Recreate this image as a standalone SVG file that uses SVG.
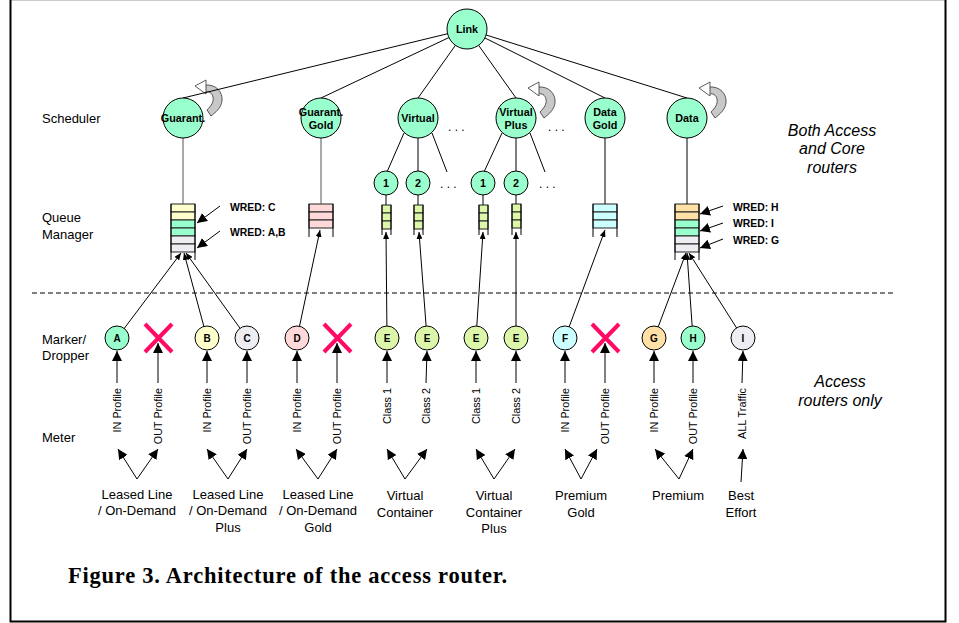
<svg xmlns="http://www.w3.org/2000/svg" xmlns:xlink="http://www.w3.org/1999/xlink" width="959" height="623" viewBox="0 0 959 623">
  <style>
    text { font-family: "Liberation Sans", Arial, sans-serif; fill: #000; }
    .lbl { font-size: 13px; }
    .side { font-size: 16px; font-style: italic; text-anchor: middle; }
    .nl { font-size: 10.8px; font-weight: bold; text-anchor: middle; }
    .ml { font-size: 10px; font-weight: bold; text-anchor: middle; }
    .wred { font-size: 10.4px; font-weight: bold; }
    .vt { font-size: 10.8px; text-anchor: end; }
    .svc { font-size: 13px; text-anchor: middle; }
    .cap { font-family: "Liberation Serif", "Times New Roman", serif; font-size: 22.5px; font-weight: bold; }
    .ln { stroke: #000; stroke-width: 1; fill: none; }
    .gl { stroke: #555; stroke-width: 1; fill: none; }
    .circ { stroke: #000; stroke-width: 1; }
    .mint { fill: #99ffcc; }
    .yel { fill: #ffffcc; }
    .gry { fill: #eeeef2; }
    .pnk { fill: #ffd9d9; }
    .lim { fill: #ddf7aa; }
    .cyn { fill: #ccffff; }
    .org { fill: #ffe0a6; }
    .cell { stroke: #222; stroke-width: 1; }
    .drop { stroke: #ff0a64; stroke-width: 4; stroke-linecap: butt; }
    .sm { marker-end: url(#ahS); }
    .bg { marker-end: url(#ahB); }
  </style>
  <defs>
    <marker id="ahS" viewBox="0 0 7 6" refX="7" refY="3" markerWidth="7" markerHeight="6" markerUnits="userSpaceOnUse" orient="auto">
      <path d="M0,0 L7,3 L0,6 z" fill="#000"/>
    </marker>
    <marker id="ahB" viewBox="0 0 10 10" refX="10" refY="5" markerWidth="10" markerHeight="10" markerUnits="userSpaceOnUse" orient="auto">
      <path d="M0,0 L10,5 L0,10 z" fill="#000"/>
    </marker>
    <!-- rotating block arrow drawn beside a scheduler -->
    <g id="curl">
      <path d="M 22,-33 C 33,-34 40,-26 39,-17 C 38,-10 33,-6 28,-2 L 24,-8 C 28,-12 31,-16 30,-21 C 29,-25 26,-27 22,-26 Z" fill="#c8c8c8" stroke="#333" stroke-width="0.8"/>
      <path d="M 23,-38 L 23,-24 L 12,-32 Z" fill="#fff" stroke="#333" stroke-width="0.8"/>
    </g>
  </defs>

  <rect x="0" y="0" width="959" height="623" fill="#fff"/>

  <!-- frame -->
  <g id="frame">
    <line x1="10" y1="0.5" x2="946" y2="0.5" stroke="#ccc" stroke-width="1"/>
    <path d="M10.5,0 V621.5 H945.5 V0" fill="none" stroke="#000" stroke-width="2"/>
  </g>

  <!-- row titles -->
  <g id="row-labels">
    <text class="lbl" x="42" y="123">Scheduler</text>
    <text class="lbl" x="42" y="222">Queue</text>
    <text class="lbl" x="42" y="239">Manager</text>
    <text class="lbl" x="42" y="344">Marker/</text>
    <text class="lbl" x="42" y="360">Dropper</text>
    <text class="lbl" x="42" y="442">Meter</text>
  </g>

  <g id="scope-labels">
    <text class="side" x="832" y="136">Both Access</text>
    <text class="side" x="832" y="154">and Core</text>
    <text class="side" x="832" y="173">routers</text>
    <text class="side" x="840" y="387">Access</text>
    <text class="side" x="840" y="406">routers only</text>
  </g>

  <!-- boundary between core and access functions -->
  <line id="divider" x1="32" y1="293" x2="893" y2="293" stroke="#000" stroke-width="1" stroke-dasharray="5,3"/>

  <!-- rotation symbols -->
  <g id="rotations">
    <use xlink:href="#curl" x="183" y="118"/>
    <use xlink:href="#curl" x="516" y="120"/>
    <use xlink:href="#curl" x="687" y="120"/>
  </g>

  <!-- dropped traffic -->
  <g id="drops">
    <path class="drop" d="M145,324 L172,352 M172,324 L145,352"/>
    <path class="drop" d="M324,324 L351,352 M351,324 L324,352"/>
    <path class="drop" d="M592,324 L619,352 M619,324 L592,352"/>
  </g>

  <!-- queues -->
  <g id="queue-guarant">
    <rect class="cell yel" x="171" y="204" width="24" height="8"/>
    <rect class="cell yel" x="171" y="212" width="24" height="8"/>
    <rect class="cell mint" x="171" y="220" width="24" height="8"/>
    <rect class="cell mint" x="171" y="228" width="24" height="8"/>
    <rect class="cell gry" x="171" y="236" width="24" height="8"/>
    <rect class="cell gry" x="171" y="244" width="24" height="8"/>
    <path class="ln" d="M171,204 V260 M195,204 V260"/>
  </g>
  <g id="queue-guarant-gold">
    <rect class="cell pnk" x="309" y="204" width="24" height="8"/>
    <rect class="cell pnk" x="309" y="212" width="24" height="8"/>
    <rect class="cell pnk" x="309" y="220" width="24" height="8"/>
    <path class="ln" d="M309,204 V237 M333,204 V237"/>
  </g>
  <g id="queue-virtual-1">
    <rect class="cell lim" x="382" y="205" width="9" height="8"/>
    <rect class="cell lim" x="382" y="213" width="9" height="8"/>
    <rect class="cell lim" x="382" y="221" width="9" height="8"/>
    <path class="ln" d="M382,205 V235 M391,205 V235"/>
  </g>
  <g id="queue-virtual-2">
    <rect class="cell lim" x="414" y="205" width="9" height="8"/>
    <rect class="cell lim" x="414" y="213" width="9" height="8"/>
    <rect class="cell lim" x="414" y="221" width="9" height="8"/>
    <path class="ln" d="M414,205 V235 M423,205 V235"/>
  </g>
  <g id="queue-virtual-plus-1">
    <rect class="cell lim" x="479" y="205" width="9" height="8"/>
    <rect class="cell lim" x="479" y="213" width="9" height="8"/>
    <rect class="cell lim" x="479" y="221" width="9" height="8"/>
    <path class="ln" d="M479,205 V235 M488,205 V235"/>
  </g>
  <g id="queue-virtual-plus-2">
    <rect class="cell lim" x="512" y="204" width="9" height="8"/>
    <rect class="cell lim" x="512" y="212" width="9" height="8"/>
    <rect class="cell lim" x="512" y="220" width="9" height="8"/>
    <path class="ln" d="M512,204 V235 M521,204 V235"/>
  </g>
  <g id="queue-data-gold">
    <rect class="cell cyn" x="593" y="204" width="24" height="8"/>
    <rect class="cell cyn" x="593" y="212" width="24" height="8"/>
    <rect class="cell cyn" x="593" y="220" width="24" height="8"/>
    <path class="ln" d="M593,204 V237 M617,204 V237"/>
  </g>
  <g id="queue-data">
    <rect class="cell org" x="675" y="204" width="24" height="8"/>
    <rect class="cell org" x="675" y="212" width="24" height="8"/>
    <rect class="cell mint" x="675" y="220" width="24" height="8"/>
    <rect class="cell mint" x="675" y="228" width="24" height="8"/>
    <rect class="cell gry" x="675" y="236" width="24" height="8"/>
    <rect class="cell gry" x="675" y="244" width="24" height="8"/>
    <path class="ln" d="M675,204 V260 M699,204 V260"/>
  </g>

  <!-- WRED thresholds -->
  <g id="wred">
    <text class="wred" x="230" y="211">WRED: C</text>
    <text class="wred" x="230" y="236">WRED: A,B</text>
    <text class="wred" x="733" y="211">WRED: H</text>
    <text class="wred" x="733" y="227">WRED: I</text>
    <text class="wred" x="733" y="244">WRED: G</text>
  </g>

  <!-- connectors -->
  <g id="connectors">
    <!-- link to schedulers -->
    <line class="ln" x1="467" y1="29" x2="183" y2="98"/>
    <line class="ln" x1="467" y1="29" x2="321" y2="98"/>
    <line class="ln" x1="467" y1="29" x2="418" y2="98"/>
    <line class="ln" x1="467" y1="29" x2="516" y2="98"/>
    <line class="ln" x1="467" y1="29" x2="605" y2="98"/>
    <line class="ln" x1="467" y1="29" x2="687" y2="98"/>
    <!-- virtual schedulers to their classes -->
    <line class="ln" x1="404" y1="133" x2="387" y2="172"/>
    <line class="ln" x1="418" y1="138" x2="418" y2="171"/>
    <line class="ln" x1="432" y1="133" x2="447" y2="172"/>
    <line class="ln" x1="502" y1="133" x2="484" y2="172"/>
    <line class="ln" x1="516" y1="138" x2="516" y2="171"/>
    <line class="ln" x1="530" y1="133" x2="545" y2="172"/>
    <!-- schedulers to queues -->
    <line class="gl" x1="183" y1="138" x2="183" y2="204"/>
    <line class="gl" x1="321" y1="138" x2="321" y2="204"/>
    <line class="ln" x1="605" y1="138" x2="605" y2="204"/>
    <line class="ln" x1="687" y1="138" x2="687" y2="204"/>
    <line class="ln" x1="386" y1="195" x2="386" y2="205"/>
    <line class="ln" x1="418" y1="195" x2="418" y2="205"/>
    <line class="ln" x1="483" y1="195" x2="483" y2="205"/>
    <line class="ln" x1="516" y1="195" x2="516" y2="204"/>
    <!-- WRED pointers -->
    <line class="ln bg" x1="220" y1="206" x2="197" y2="223"/>
    <line class="ln bg" x1="220" y1="231" x2="197" y2="248"/>
    <line class="ln bg" x1="723" y1="206" x2="700" y2="214"/>
    <line class="ln bg" x1="723" y1="223" x2="700" y2="231"/>
    <line class="ln bg" x1="723" y1="239" x2="700" y2="248"/>
    <!-- markers to queues -->
    <line class="ln sm" x1="117" y1="338" x2="181" y2="253"/>
    <line class="ln sm" x1="207" y1="338" x2="184" y2="253"/>
    <line class="ln sm" x1="247" y1="338" x2="186" y2="253"/>
    <line class="ln sm" x1="297" y1="338" x2="320" y2="230"/>
    <line class="ln sm" x1="387" y1="338" x2="386" y2="232"/>
    <line class="ln sm" x1="427" y1="338" x2="419" y2="232"/>
    <line class="ln sm" x1="476" y1="338" x2="483" y2="232"/>
    <line class="ln sm" x1="516" y1="338" x2="516" y2="232"/>
    <line class="ln sm" x1="565" y1="338" x2="605" y2="230"/>
    <line class="ln sm" x1="654" y1="338" x2="686" y2="253"/>
    <line class="ln sm" x1="693" y1="338" x2="687" y2="253"/>
    <line class="ln sm" x1="743" y1="338" x2="689" y2="253"/>
    <!-- meter outputs to markers / droppers -->
    <line class="ln bg" x1="117" y1="383" x2="117" y2="351"/>
    <line class="ln bg" x1="158" y1="383" x2="158" y2="343"/>
    <line class="ln bg" x1="207" y1="383" x2="207" y2="351"/>
    <line class="ln bg" x1="247" y1="383" x2="247" y2="351"/>
    <line class="ln bg" x1="297" y1="383" x2="297" y2="351"/>
    <line class="ln bg" x1="337" y1="383" x2="337" y2="343"/>
    <line class="ln bg" x1="387" y1="383" x2="387" y2="351"/>
    <line class="ln bg" x1="426" y1="383" x2="427" y2="351"/>
    <line class="ln bg" x1="476" y1="383" x2="476" y2="351"/>
    <line class="ln bg" x1="516" y1="383" x2="516" y2="351"/>
    <line class="ln bg" x1="565" y1="383" x2="565" y2="351"/>
    <line class="ln bg" x1="605" y1="383" x2="605" y2="343"/>
    <line class="ln bg" x1="654" y1="383" x2="654" y2="351"/>
    <line class="ln bg" x1="693" y1="383" x2="693" y2="351"/>
    <line class="ln bg" x1="742" y1="383" x2="743" y2="351"/>
    <!-- service classes into the meter -->
    <line class="ln bg" x1="137" y1="479" x2="118" y2="449"/>
    <line class="ln bg" x1="137" y1="479" x2="158" y2="449"/>
    <line class="ln bg" x1="228" y1="479" x2="207" y2="449"/>
    <line class="ln bg" x1="228" y1="479" x2="247" y2="449"/>
    <line class="ln bg" x1="318" y1="479" x2="296" y2="449"/>
    <line class="ln bg" x1="318" y1="479" x2="337" y2="449"/>
    <line class="ln bg" x1="405" y1="479" x2="387" y2="449"/>
    <line class="ln bg" x1="405" y1="479" x2="427" y2="449"/>
    <line class="ln bg" x1="494" y1="479" x2="476" y2="449"/>
    <line class="ln bg" x1="494" y1="479" x2="515" y2="449"/>
    <line class="ln bg" x1="581" y1="479" x2="565" y2="449"/>
    <line class="ln bg" x1="581" y1="479" x2="597" y2="449"/>
    <line class="ln bg" x1="679" y1="479" x2="655" y2="449"/>
    <line class="ln bg" x1="679" y1="479" x2="693" y2="449"/>
    <line class="ln bg" x1="741" y1="482" x2="743" y2="449"/>
  </g>

  <!-- continuation dots -->
  <g id="more">
    <text x="448" y="131" style="font-size:12px">. . .</text>
    <text x="548" y="131" style="font-size:12px">. . .</text>
    <text x="440" y="188" style="font-size:12px">. . .</text>
    <text x="539" y="188" style="font-size:12px">. . .</text>
  </g>

  <!-- schedulers -->
  <g id="link"><circle class="circ mint" cx="467" cy="29" r="20"/><text class="nl" x="467" y="33">Link</text></g>
  <g id="sched-guarant"><circle class="circ mint" cx="183" cy="118" r="20"/><text class="nl" x="183" y="122">Guarant.</text></g>
  <g id="sched-guarant-gold"><circle class="circ mint" cx="321" cy="118" r="20"/><text class="nl" x="321" y="116">Guarant.</text><text class="nl" x="321" y="129">Gold</text></g>
  <g id="sched-virtual"><circle class="circ mint" cx="418" cy="118" r="20"/><text class="nl" x="418" y="122">Virtual</text></g>
  <g id="sched-virtual-plus"><circle class="circ mint" cx="516" cy="118" r="20"/><text class="nl" x="516" y="116">Virtual</text><text class="nl" x="516" y="129">Plus</text></g>
  <g id="sched-data-gold"><circle class="circ mint" cx="605" cy="118" r="20"/><text class="nl" x="605" y="116">Data</text><text class="nl" x="605" y="129">Gold</text></g>
  <g id="sched-data"><circle class="circ mint" cx="687" cy="118" r="20"/><text class="nl" x="687" y="122">Data</text></g>

  <!-- class schedulers -->
  <g id="class-v1"><circle class="circ mint" cx="386" cy="183" r="12"/><text class="nl" x="386" y="187">1</text></g>
  <g id="class-v2"><circle class="circ mint" cx="418" cy="183" r="12"/><text class="nl" x="418" y="187">2</text></g>
  <g id="class-vp1"><circle class="circ mint" cx="483" cy="183" r="12"/><text class="nl" x="483" y="187">1</text></g>
  <g id="class-vp2"><circle class="circ mint" cx="516" cy="183" r="12"/><text class="nl" x="516" y="187">2</text></g>

  <!-- markers -->
  <g id="marker-a"><circle class="circ mint" cx="117" cy="338" r="12"/><text class="ml" x="117" y="342">A</text></g>
  <g id="marker-b"><circle class="circ yel" cx="207" cy="338" r="12"/><text class="ml" x="207" y="342">B</text></g>
  <g id="marker-c"><circle class="circ gry" cx="247" cy="338" r="12"/><text class="ml" x="247" y="342">C</text></g>
  <g id="marker-d"><circle class="circ pnk" cx="297" cy="338" r="12"/><text class="ml" x="297" y="342">D</text></g>
  <g id="marker-e1"><circle class="circ lim" cx="387" cy="338" r="12"/><text class="ml" x="387" y="342">E</text></g>
  <g id="marker-e2"><circle class="circ lim" cx="427" cy="338" r="12"/><text class="ml" x="427" y="342">E</text></g>
  <g id="marker-e3"><circle class="circ lim" cx="476" cy="338" r="12"/><text class="ml" x="476" y="342">E</text></g>
  <g id="marker-e4"><circle class="circ lim" cx="516" cy="338" r="12"/><text class="ml" x="516" y="342">E</text></g>
  <g id="marker-f"><circle class="circ cyn" cx="565" cy="338" r="12"/><text class="ml" x="565" y="342">F</text></g>
  <g id="marker-g"><circle class="circ org" cx="654" cy="338" r="12"/><text class="ml" x="654" y="342">G</text></g>
  <g id="marker-h"><circle class="circ mint" cx="693" cy="338" r="12"/><text class="ml" x="693" y="342">H</text></g>
  <g id="marker-i"><circle class="circ gry" cx="743" cy="338" r="12"/><text class="ml" x="743" y="342">I</text></g>

  <!-- meter outputs -->
  <g id="meter-outputs">
    <text class="vt" transform="translate(121,388) rotate(-90)">IN Profile</text>
    <text class="vt" transform="translate(162,388) rotate(-90)">OUT Profile</text>
    <text class="vt" transform="translate(211,388) rotate(-90)">IN Profile</text>
    <text class="vt" transform="translate(251,388) rotate(-90)">OUT Profile</text>
    <text class="vt" transform="translate(301,388) rotate(-90)">IN Profile</text>
    <text class="vt" transform="translate(341,388) rotate(-90)">OUT Profile</text>
    <text class="vt" transform="translate(391,388) rotate(-90)">Class 1</text>
    <text class="vt" transform="translate(430,388) rotate(-90)">Class 2</text>
    <text class="vt" transform="translate(480,388) rotate(-90)">Class 1</text>
    <text class="vt" transform="translate(520,388) rotate(-90)">Class 2</text>
    <text class="vt" transform="translate(569,388) rotate(-90)">IN Profile</text>
    <text class="vt" transform="translate(609,388) rotate(-90)">OUT Profile</text>
    <text class="vt" transform="translate(658,388) rotate(-90)">IN Profile</text>
    <text class="vt" transform="translate(697,388) rotate(-90)">OUT Profile</text>
    <text class="vt" transform="translate(746,388) rotate(-90)">ALL Traffic</text>
  </g>

  <!-- service classes -->
  <g id="svc-ll-od"><text class="svc" x="137" y="499">Leased Line</text><text class="svc" x="137" y="515">/ On-Demand</text></g>
  <g id="svc-ll-od-plus"><text class="svc" x="228" y="499">Leased Line</text><text class="svc" x="228" y="515">/ On-Demand</text><text class="svc" x="228" y="532">Plus</text></g>
  <g id="svc-ll-od-gold"><text class="svc" x="318" y="499">Leased Line</text><text class="svc" x="318" y="515">/ On-Demand</text><text class="svc" x="318" y="532">Gold</text></g>
  <g id="svc-vc"><text class="svc" x="405" y="500">Virtual</text><text class="svc" x="405" y="517">Container</text></g>
  <g id="svc-vc-plus"><text class="svc" x="494" y="500">Virtual</text><text class="svc" x="494" y="517">Container</text><text class="svc" x="494" y="533">Plus</text></g>
  <g id="svc-premium-gold"><text class="svc" x="581" y="500">Premium</text><text class="svc" x="581" y="517">Gold</text></g>
  <g id="svc-premium"><text class="svc" x="678" y="500">Premium</text></g>
  <g id="svc-best-effort"><text class="svc" x="741" y="500">Best</text><text class="svc" x="741" y="517">Effort</text></g>

  <text class="cap" x="68" y="583" textLength="439" lengthAdjust="spacing">Figure 3. Architecture of the access router.</text>
</svg>
